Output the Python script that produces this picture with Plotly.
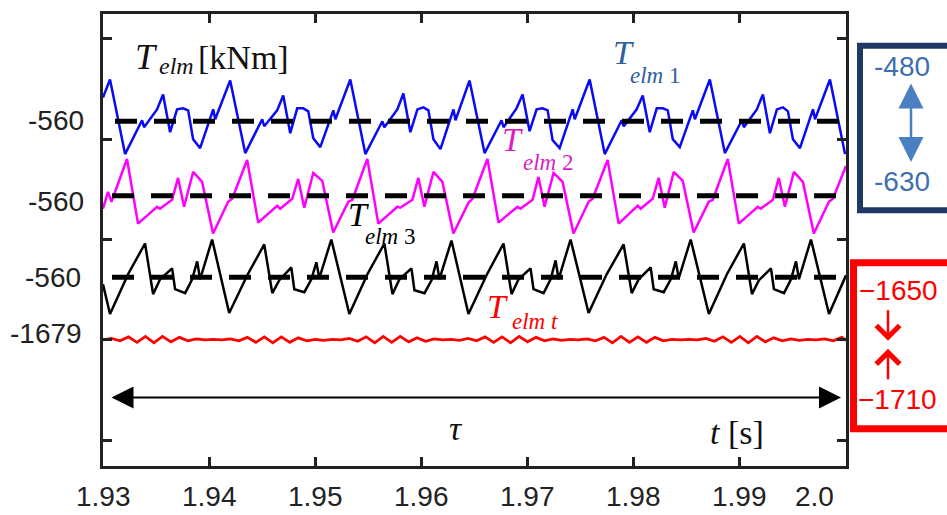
import plotly.graph_objects as go

# ---------------- data ----------------
T0 = 1.93  # s, start of the window; times below are in ms after T0

t1_ms = [0.0,
         0.66, 2.08, 3.68, 3.87, 5.09, 5.66, 6.32, 6.98, 7.55, 8.02, 8.49, 9.15, 10.38, 10.57,
         11.98, 13.40, 15.00, 15.19, 16.41, 16.98, 17.64, 18.30, 18.87, 19.34, 19.81, 20.47, 21.70, 21.89,
         23.30, 24.72, 26.32, 26.51, 27.73, 28.30, 28.96, 29.62, 30.19, 30.66, 31.13, 31.79, 33.02, 33.21,
         34.53, 35.95, 37.55, 37.74, 38.96, 39.53, 40.19, 40.85, 41.42, 41.89, 42.36, 43.02, 44.25, 44.44,
         45.85, 47.27, 48.87, 49.06, 50.28, 50.85, 51.51, 52.17, 52.74, 53.21, 53.68, 54.34, 55.57, 55.76,
         57.17, 58.59, 60.19, 60.38, 61.60, 62.17, 62.83, 63.49, 64.06, 64.53, 65.00, 65.66, 66.89, 67.08,
         68.49, 69.91]
telm1 = [-512,
         -476, -626, -558, -572, -536, -506, -582, -536, -534, -538, -596, -614, -536, -556,
         -478, -624, -556, -570, -538, -508, -584, -534, -534, -540, -594, -612, -538, -556,
         -476, -626, -560, -572, -536, -504, -582, -536, -532, -538, -596, -616, -536, -558,
         -478, -624, -558, -572, -534, -506, -580, -536, -534, -538, -598, -614, -536, -556,
         -476, -626, -558, -570, -536, -508, -582, -534, -534, -538, -596, -612, -538, -556,
         -476, -624, -558, -572, -536, -506, -584, -536, -532, -540, -596, -614, -536, -556,
         -476, -626]

t2_ms = [0.0, 0.47, 0.80,
         2.26, 3.30, 5.09, 5.37, 6.51, 7.07, 7.64, 8.49, 9.34, 10.37, 11.79, 12.17,
         13.58, 14.62, 16.41, 16.69, 17.83, 18.39, 18.96, 19.81, 20.66, 21.69, 23.11, 23.49,
         24.90, 25.94, 27.73, 28.01, 29.15, 29.71, 30.28, 31.13, 31.98, 33.01, 34.43, 34.81,
         36.22, 37.26, 39.05, 39.33, 40.47, 41.03, 41.60, 42.45, 43.30, 44.33, 45.75, 46.13,
         47.54, 48.58, 50.37, 50.65, 51.79, 52.35, 52.92, 53.77, 54.62, 55.65, 57.07, 57.45,
         58.86, 59.90, 61.69, 61.97, 63.11, 63.67, 64.24, 65.09, 65.94, 66.97, 68.39, 68.77,
         70.00]
telm2 = [-586, -552, -572,
         -486, -616, -582, -586, -568, -524, -582, -512, -532, -636, -572, -566,
         -488, -614, -580, -586, -566, -526, -584, -514, -530, -634, -572, -568,
         -486, -616, -582, -584, -568, -524, -582, -512, -532, -636, -574, -566,
         -486, -614, -582, -586, -568, -522, -582, -514, -532, -636, -572, -566,
         -488, -616, -580, -586, -566, -524, -584, -512, -530, -634, -572, -568,
         -486, -616, -582, -586, -568, -524, -582, -512, -532, -636, -572, -566,
         -500]

t3_ms = [0.0,
         0.66, 2.36, 3.96, 4.72, 5.38, 6.51, 6.79, 7.74, 8.40, 8.87, 9.15, 10.28,
         11.89, 13.59, 15.19, 15.95, 16.61, 17.74, 18.02, 18.97, 19.63, 20.10, 20.38, 21.51,
         23.21, 24.91, 26.51, 27.27, 27.93, 29.06, 29.34, 30.29, 30.95, 31.42, 31.70, 32.83,
         34.43, 36.13, 37.73, 38.49, 39.15, 40.28, 40.56, 41.51, 42.17, 42.64, 42.92, 44.05,
         45.75, 47.45, 49.05, 49.81, 50.47, 51.60, 51.88, 52.83, 53.49, 53.96, 54.24, 55.37,
         57.08, 58.78, 60.38, 61.14, 61.80, 62.93, 63.21, 64.16, 64.82, 65.29, 65.57, 66.70,
         68.40, 70.00]
telm3 = [-574,
         -634, -554, -492, -594, -564, -542, -584, -592, -564, -528, -564, -484,
         -632, -556, -494, -592, -566, -540, -584, -590, -564, -530, -562, -484,
         -634, -554, -492, -594, -564, -542, -586, -592, -566, -528, -564, -486,
         -634, -556, -492, -594, -564, -542, -584, -592, -564, -526, -564, -484,
         -632, -554, -494, -592, -564, -540, -584, -590, -564, -528, -562, -484,
         -634, -554, -492, -594, -566, -542, -584, -592, -564, -528, -564, -484,
         -634, -556]

tt_ms = [0.0, 0.8, 1.6, 2.4, 3.2, 4.0, 4.8, 5.6, 6.4, 7.2, 8.0, 8.8, 9.6, 10.4,
         11.2, 12.0, 12.8, 13.6, 14.4, 15.2, 16.0, 16.8, 17.6, 18.4, 19.2, 20.0, 20.8, 21.6,
         22.4, 23.2, 24.0, 24.8, 25.6, 26.4, 27.2, 28.0, 28.8, 29.6, 30.4, 31.2, 32.0, 32.8,
         33.6, 34.4, 35.2, 36.0, 36.8, 37.6, 38.4, 39.2, 40.0, 40.8, 41.6, 42.4, 43.2, 44.0,
         44.8, 45.6, 46.4, 47.2, 48.0, 48.8, 49.6, 50.4, 51.2, 52.0, 52.8, 53.6, 54.4, 55.2,
         56.0, 56.8, 57.6, 58.4, 59.2, 60.0, 60.8, 61.6, 62.4, 63.2, 64.0, 64.8, 65.6, 66.4,
         67.2, 68.0, 68.8, 69.6, 70.0]
telmt = [-1679, -1676, -1681, -1673, -1684, -1672, -1685, -1672, -1683, -1674, -1681, -1677, -1679, -1678,
         -1679, -1677, -1681, -1674, -1684, -1673, -1685, -1673, -1684, -1675, -1681, -1678, -1680, -1678,
         -1679, -1676, -1682, -1673, -1685, -1672, -1684, -1672, -1683, -1675, -1682, -1677, -1679, -1678,
         -1680, -1676, -1681, -1673, -1684, -1673, -1685, -1672, -1683, -1674, -1681, -1677, -1680, -1678,
         -1679, -1677, -1681, -1674, -1685, -1672, -1684, -1673, -1684, -1674, -1681, -1678, -1679, -1678,
         -1679, -1676, -1682, -1673, -1684, -1672, -1685, -1672, -1683, -1675, -1681, -1677, -1680, -1678,
         -1679, -1677, -1681, -1674, -1680]

means = [-560, -560, -560, -1679]           # dashed reference levels / left labels
left_labels = ["-560", "-560", "-560", "-1679"]
xtick_vals = [1.93, 1.94, 1.95, 1.96, 1.97, 1.98, 1.99, 1.997]
xtick_text = ["1.93", "1.94", "1.95", "1.96", "1.97", "1.98", "1.99", "2.0"]
range1 = ["-480", "-630"]
ranget = ["\u22121650", "\u22121710"]

# ---------------- layout helpers ----------------
W, H = 947, 515
L, R, TOP, B = 103, 101, 11, 49
def px(x):
    return (x - L) / (W - L - R)
def py(y):
    return (H - B - y) / (H - TOP - B)

# vertical stacking offsets (display units) for each trace
shift = [322, 172, 8, 1001]
def to_t(ms):
    return [T0 + m / 1000.0 for m in ms]

SERIF = "Liberation Serif"
SANS = "Liberation Sans"

fig = go.Figure()
series = [(t1_ms, telm1, "#0a0af5", 2.5), (t2_ms, telm2, "#ff00ff", 2.5),
          (t3_ms, telm3, "#000000", 2.5), (tt_ms, telmt, "#ff0000", 2.8)]
for i, (tm, v, c, w) in enumerate(series):
    fig.add_trace(go.Scatter(x=to_t(tm), y=[a + shift[i] for a in v], mode="lines",
                             line=dict(color=c, width=w), hoverinfo="skip"))

dash_start = [1.13, 0.85, 0.85]
for i in range(3):
    fig.add_trace(go.Scatter(x=[T0 + dash_start[i] / 1000, 2.0], y=[means[i] + shift[i]] * 2,
                             mode="lines", line=dict(color="black", width=5, dash="22px,17px"),
                             hoverinfo="skip"))

ann = []
# left labels
left_pos = [(86, 118), (86, 200), (83, 276), (84, 333)]
for lab, (x, y) in zip(left_labels, left_pos):
    ann.append(dict(x=px(x), y=py(y), xref="paper", yref="paper", text=lab, showarrow=False,
                    xanchor="right", yanchor="middle", font=dict(family=SANS, size=28, color="#222")))
# x tick labels
for v, s in zip(xtick_vals, xtick_text):
    ann.append(dict(x=v, y=py(497), xref="x", yref="paper", text=s, showarrow=False,
                    xanchor="center", yanchor="middle", font=dict(family=SANS, size=28, color="#222")))

def label(tx, ty, sub, sx, sy, color, tsize=34, ssize=23):
    ann.append(dict(x=px(tx), y=py(ty), xref="paper", yref="paper", text="<i>T</i>", showarrow=False,
                    xanchor="center", yanchor="middle", font=dict(family=SERIF, size=tsize, color=color)))
    ann.append(dict(x=px(sx), y=py(sy), xref="paper", yref="paper", text=sub, showarrow=False,
                    xanchor="left", yanchor="middle", font=dict(family=SERIF, size=ssize, color=color)))

label(146, 54, "<i>elm</i>", 157, 63, "#111", tsize=36, ssize=24)
ann.append(dict(x=px(196), y=py(55), xref="paper", yref="paper", text="[kNm]", showarrow=False,
                xanchor="left", yanchor="middle", font=dict(family=SERIF, size=34, color="#111")))
label(623, 50, "<i>elm</i> 1", 628, 73, "#2f609c")
label(512, 137, "<i>elm</i> 2", 521, 160, "#d91fc4")
label(358, 213, "<i>elm</i> 3", 363, 235, "#000")
label(497, 305, "<i>elm t</i>", 510, 321, "#ff0000")

ann.append(dict(x=px(456), y=py(428), xref="paper", yref="paper", text="<i>\u03c4</i>", showarrow=False,
                xanchor="center", yanchor="middle", font=dict(family=SERIF, size=34, color="#111")))
ann.append(dict(x=px(737), y=py(432), xref="paper", yref="paper", text="<i>t</i> [s]", showarrow=False,
                xanchor="center", yanchor="middle", font=dict(family=SERIF, size=34, color="#111")))

# horizontal double arrow (tau window)
ya = -2 * 397
ann.append(dict(x=T0 + 69.53 / 1000, y=ya, ax=T0 + 0.66 / 1000, ay=ya, xref="x", yref="y",
                axref="x", ayref="y", text="", showarrow=True, arrowhead=2, arrowside="end+start",
                arrowsize=2.2, arrowwidth=2, arrowcolor="black", standoff=0, startstandoff=0))

# navy range box
ann.append(dict(x=px(902), y=py(64), xref="paper", yref="paper", text=range1[0], showarrow=False,
                xanchor="center", yanchor="middle", font=dict(family=SANS, size=28, color="#3f6fae")))
ann.append(dict(x=px(902), y=py(180), xref="paper", yref="paper", text=range1[1], showarrow=False,
                xanchor="center", yanchor="middle", font=dict(family=SANS, size=28, color="#3f6fae")))
ann.append(dict(x=px(911), y=py(160), xref="paper", yref="paper", ax=0, ay=-80, text="",
                showarrow=True, arrowhead=2, arrowside="end+start", arrowsize=2.0, arrowwidth=2.5,
                arrowcolor="#4a7fc1", standoff=0, startstandoff=0))
# red range box
ann.append(dict(x=px(898), y=py(289), xref="paper", yref="paper", text=ranget[0], showarrow=False,
                xanchor="center", yanchor="middle", font=dict(family=SANS, size=28, color="#ff0000")))
ann.append(dict(x=px(897), y=py(399), xref="paper", yref="paper", text=ranget[1], showarrow=False,
                xanchor="center", yanchor="middle", font=dict(family=SANS, size=28, color="#ff0000")))
ann.append(dict(x=px(888), y=py(340), xref="paper", yref="paper", ax=0, ay=-32, text="",
                showarrow=True, arrowhead=4, arrowsize=1.8, arrowwidth=2.5, arrowcolor="#ff0000",
                standoff=0))
ann.append(dict(x=px(888), y=py(348), xref="paper", yref="paper", ax=0, ay=32, text="",
                showarrow=True, arrowhead=4, arrowsize=1.8, arrowwidth=2.5, arrowcolor="#ff0000",
                standoff=0))

shapes = [
    dict(type="rect", xref="paper", yref="paper", x0=px(860), x1=px(990), y0=py(208.5), y1=py(43),
         line=dict(color="#1f3864", width=6)),
    dict(type="rect", xref="paper", yref="paper", x0=px(853.5), x1=px(990), y0=py(428.5), y1=py(261.5),
         line=dict(color="#ff0000", width=7)),
]

fig.update_layout(
    width=W, height=H, margin=dict(l=L, r=R, t=TOP, b=B),
    paper_bgcolor="white", plot_bgcolor="white", showlegend=False,
    annotations=ann, shapes=shapes,
    xaxis=dict(range=[1.93, 2.0], showgrid=False, zeroline=False, showline=True, linecolor="#222",
               linewidth=2.5, mirror="ticks", ticks="inside", ticklen=9, tickwidth=2.5,
               tickcolor="#222", tickvals=[1.94, 1.95, 1.96, 1.97, 1.98, 1.99],
               showticklabels=False),
    yaxis=dict(range=[-932, -22], showgrid=False, zeroline=False, showline=True, linecolor="#222",
               linewidth=2.5, mirror="ticks", ticks="inside", ticklen=9, tickwidth=2.5,
               tickcolor="#222", tickvals=[-72, -274, -476, -678, -880], showticklabels=False),
)

fig.write_html("out.html")
